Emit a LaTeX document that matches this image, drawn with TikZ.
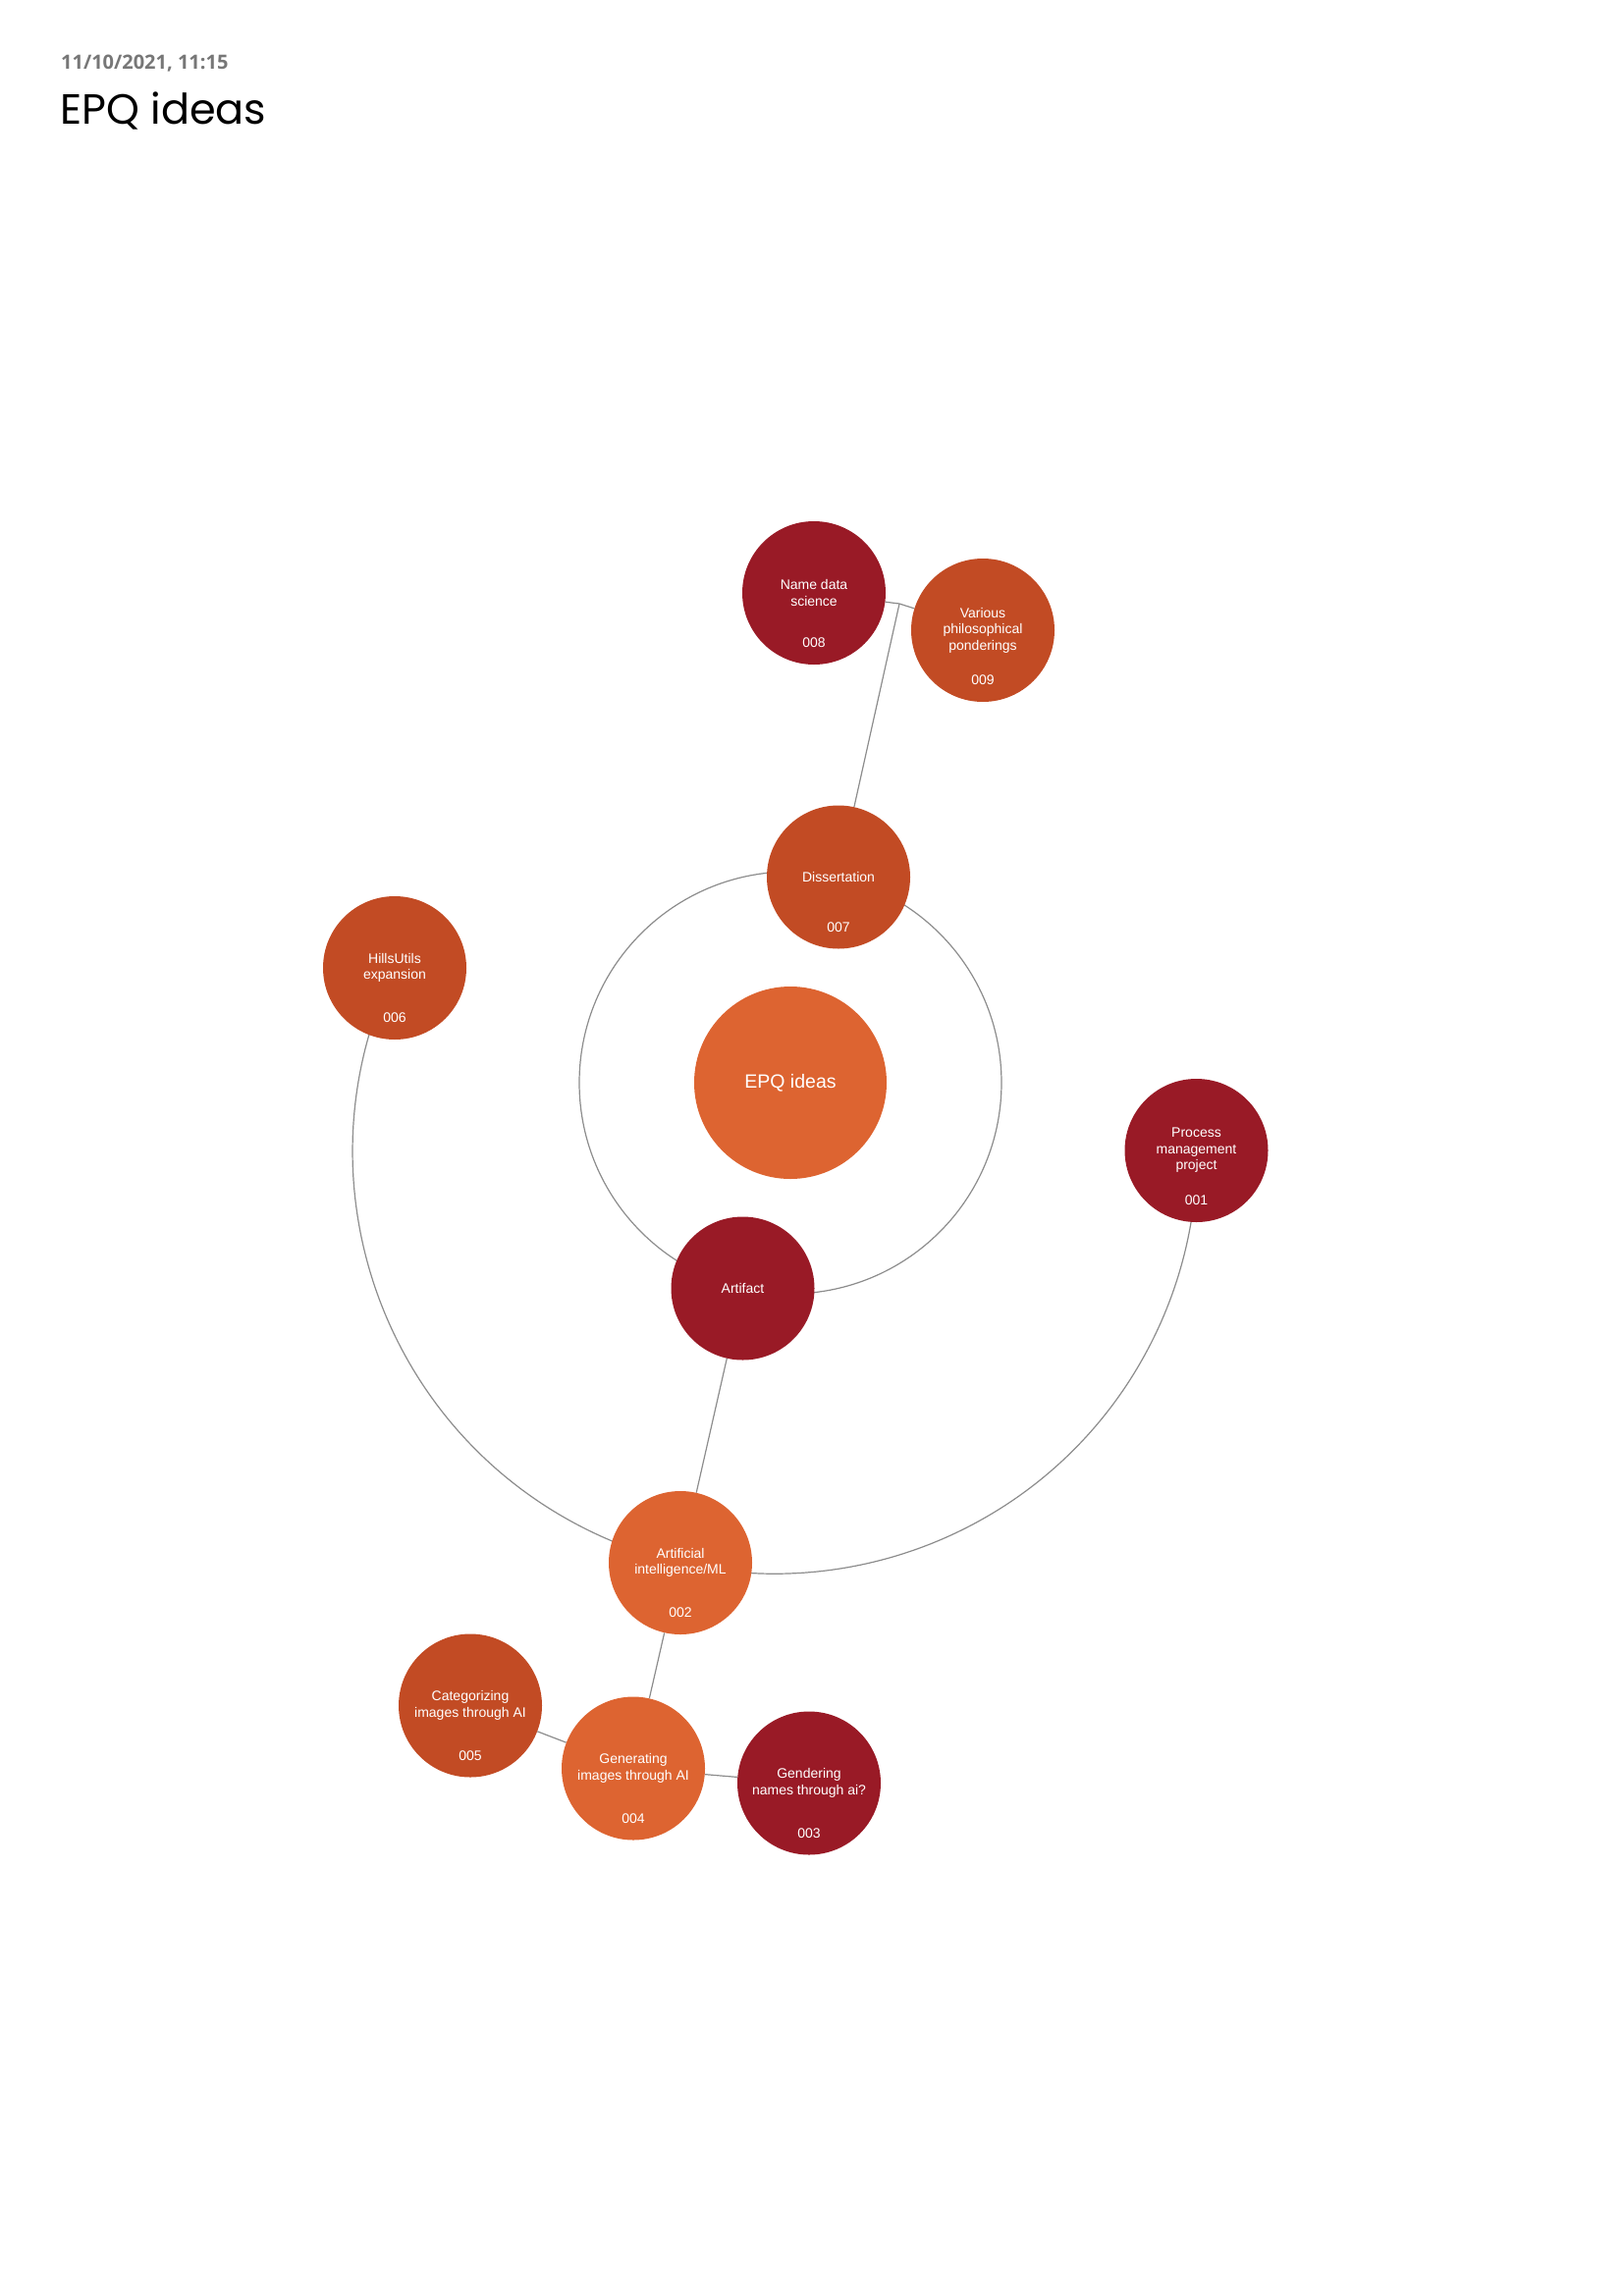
\documentclass[tikz,border=0pt]{standalone}
\usepackage{fontspec}
\setmainfont{Liberation Sans}
\newfontfamily\headfont{Poppins}
\newfontfamily\datefont{Open Sans}
\usepackage{tikz}
\usetikzlibrary{backgrounds}
\definecolor{wine}{HTML}{991A26}
\definecolor{rust}{HTML}{C24B24}
\definecolor{tang}{HTML}{DD6431}
\definecolor{linkgray}{HTML}{8C8C8C}
\definecolor{dategray}{HTML}{777777}
\tikzset{link/.style={draw=linkgray, line width=1.2pt}}

\begin{document}
\begin{tikzpicture}[x=1pt, y=-1pt, idea/.style={circle, minimum size=146pt, inner sep=0pt, text=white, align=center, font=\fontsize{14}{16.5}\selectfont}, num/.style={yshift=-51pt, inner sep=0pt, text=white, font=\fontsize{14}{16.5}\selectfont}]
\useasboundingbox (0,0) rectangle (1653,2339);
\node[anchor=base west, inner sep=0pt, text=dategray, font=\datefont\bfseries\fontsize{20}{24}\selectfont] (date) at (62,71) {11/10/2021, 11:15};
\node[anchor=base west, inner sep=0pt, font=\headfont\fontsize{43}{50}\selectfont] (title) at (61,127) {EPQ ideas};
\node[idea, fill=tang, minimum size=196pt, font=\fontsize{19.5}{23}\selectfont] (epq) at (805,1103) {EPQ ideas};
\node[idea, fill=rust, label={[num]center:007}] (007) at (854,893.5) {Dissertation};
\node[idea, fill=wine, label={[num]center:008}] (008) at (829,604) {Name data\\science};
\node[idea, fill=rust, label={[num]center:009}] (009) at (1001,642) {Various\\philosophical\\ponderings};
\node[idea, fill=rust, label={[num]center:006}] (006) at (402,986) {HillsUtils\\expansion};
\node[idea, fill=wine] (art) at (756.5,1312.5) {Artifact};
\node[idea, fill=wine, label={[num]center:001}] (001) at (1218.5,1172) {Process\\management\\project};
\node[idea, fill=tang, label={[num]center:002}] (002) at (693,1592) {Artificial\\intelligence/ML};
\node[idea, fill=rust, label={[num]center:005}] (005) at (479,1737.5) {Categorizing\\images through AI};
\node[idea, fill=tang, label={[num]center:004}] (004) at (645,1801.5) {Generating\\images through AI};
\node[idea, fill=wine, label={[num]center:003}] (003) at (824,1816.5) {Gendering\\names through ai?};
\coordinate (fork) at (916,615);
\begin{pgfonlayer}{background}
\draw[link] (epq.center) circle (215);
\draw[link] (006.center) arc (-154.2:-360.1:430);
\draw[link] (007) -- (fork);
\draw[link] (fork) -- (008);
\draw[link] (fork) -- (009);
\draw[link] (art) -- (002);
\draw[link] (002) -- (004);
\draw[link] (004) -- (005);
\draw[link] (004) -- (003);
\end{pgfonlayer}
\end{tikzpicture}
\end{document}
